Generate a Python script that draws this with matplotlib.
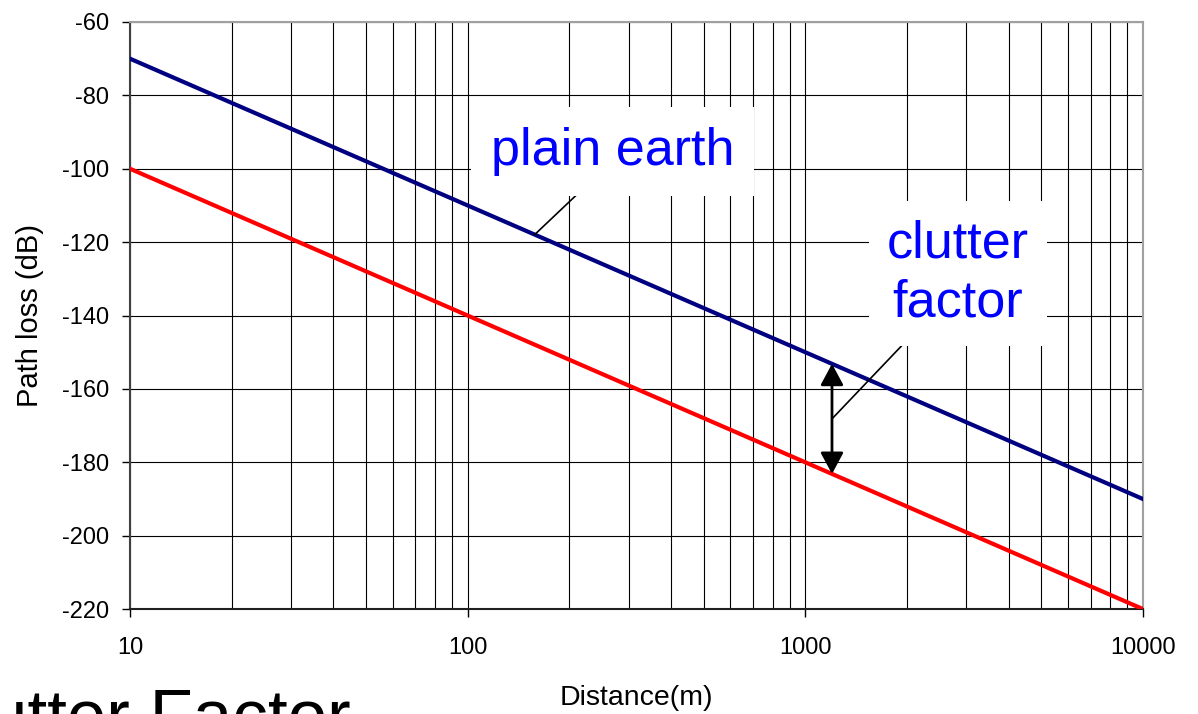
import matplotlib.pyplot as plt
import numpy as np

plt.rcParams["font.family"] = ["Liberation Sans", "DejaVu Sans"]

# Distance (m) and path loss (dB) for both models
distance = [10, 100, 1000, 10000]
plain_earth_loss = [-70, -110, -150, -190]
clutter_loss = [-100, -140, -180, -220]

y_ticks = [-60, -80, -100, -120, -140, -160, -180, -200, -220]
x_ticks = [10, 100, 1000, 10000]

# distance where the clutter factor is marked
marker_distance = 1200


def plot_clutter_factor(save_path="out.png"):
    """
    Path loss for plain earth vs. plain earth plus clutter.
    """

    fig = plt.figure(figsize=(11.98, 7.14), dpi=100)
    ax = fig.add_axes([0.1085, 0.147, 0.8455, 0.8222])

    ax.plot(
        distance,
        plain_earth_loss,
        color="#000080",
        linewidth=3,
        zorder=4,
    )

    ax.plot(
        distance,
        clutter_loss,
        color="#ff0000",
        linewidth=3,
        zorder=4,
    )

    ax.set_xscale("log")
    ax.set_xlim(10, 10000)
    ax.set_ylim(-220, -60)

    ax.set_xticks(x_ticks)
    ax.set_xticklabels([str(t) for t in x_ticks])
    ax.set_yticks(y_ticks)
    ax.set_yticklabels([str(t) for t in y_ticks])
    ax.tick_params(axis="x", which="minor", length=0)
    ax.tick_params(axis="x", which="major", length=6, width=1, pad=14, labelsize=17)
    ax.tick_params(axis="y", length=6, width=1, pad=9, labelsize=17)

    ax.grid(True, which="both", axis="x", color="black", linewidth=0.8)
    ax.grid(True, which="major", axis="y", color="black", linewidth=0.8)

    ax.spines["left"].set_color("#404040")
    ax.spines["left"].set_linewidth(1.5)
    ax.spines["bottom"].set_color("#202020")
    ax.spines["bottom"].set_linewidth(1.5)
    ax.spines["top"].set_color("#a0a0a0")
    ax.spines["top"].set_linewidth(1.5)
    ax.spines["right"].set_color("#a0a0a0")
    ax.spines["right"].set_linewidth(1.5)

    ax.set_xlabel("Distance(m)", fontsize=20.5, labelpad=19)
    ax.set_ylabel("Path loss (dB)", fontsize=21, labelpad=13)

    # clutter factor: gap between the two curves at one distance
    top = np.interp(np.log10(marker_distance), np.log10(distance), plain_earth_loss)
    bottom = np.interp(np.log10(marker_distance), np.log10(distance), clutter_loss)

    ax.annotate(
        "",
        xy=(marker_distance, bottom),
        xytext=(marker_distance, top),
        arrowprops=dict(
            arrowstyle="<|-|>,head_length=1.3,head_width=0.7",
            color="black",
            linewidth=2,
            shrinkA=0,
            shrinkB=0,
        ),
        zorder=5,
    )

    ax.plot(
        [marker_distance, 2125],
        [(top + bottom) / 2, -144.2],
        color="black",
        linewidth=1.2,
        zorder=5,
    )

    # leader line to the plain earth curve
    x_leader = 158
    y_leader = np.interp(np.log10(x_leader), np.log10(distance), plain_earth_loss)
    ax.plot(
        [x_leader, 253],
        [y_leader, -100.1],
        color="black",
        linewidth=1.2,
        zorder=5,
    )

    ax.text(
        269,
        -95.3,
        "plain earth",
        color="#0000ff",
        fontsize=37.5,
        ha="center",
        va="center",
        zorder=6,
        bbox=dict(boxstyle="square,pad=0.38", facecolor="white", edgecolor="none"),
    )

    ax.text(
        2831,
        -128.5,
        "clutter\nfactor",
        color="#0000ff",
        fontsize=37.5,
        ha="center",
        va="center",
        linespacing=1.27,
        zorder=6,
        bbox=dict(boxstyle="square,pad=0.35", facecolor="white", edgecolor="none"),
    )

    # slide title running off the lower edge
    fig.text(
        -0.066,
        -0.035,
        "Clutter Factor",
        fontsize=51,
        ha="left",
        va="baseline",
    )

    fig.savefig(save_path, dpi=100)

    plt.close(fig)


plot_clutter_factor()
